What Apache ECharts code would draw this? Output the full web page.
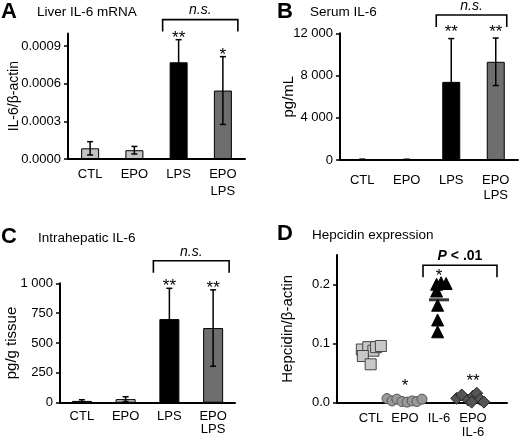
<!DOCTYPE html>
<html><head><meta charset="utf-8">
<script src="https://cdn.jsdelivr.net/npm/echarts@6/dist/echarts.min.js"></script>
<style>html,body{margin:0;padding:0;background:#fff}#c{width:520px;height:439px}</style>
</head><body><div id="c"></div>
<script>
// ---------- data ----------
const barCategories = ['CTL', 'EPO', 'LPS', 'EPO\nLPS'];
const dotCategories = ['CTL', 'EPO', 'IL-6', 'EPO\nIL-6'];

// A: Liver IL-6 mRNA (IL-6/β-actin)
const liverMean = [0.000085, 0.00007, 0.00077, 0.000545];
const liverErr = [0.000053, 0.00003, 0.00018, 0.00027];
const liverStars = ['', '', '**', '*'];
const liverTicks = [0, 0.0003, 0.0006, 0.0009];

// B: Serum IL-6 (pg/mL)
const serumMean = [50, 40, 7400, 9300];
const serumErr = [30, 30, 4100, 2250];
const serumStars = ['', '', '**', '**'];
const serumTicks = [0, 4000, 8000, 12000];

// C: Intrahepatic IL-6 (pg/g tissue)
const hepMean = [15, 30, 700, 625];
const hepErr = [10, 20, 258, 320];
const hepStars = ['', '', '**', '**'];
const hepTicks = [0, 250, 500, 750, 1000];

// D: Hepcidin expression (Hepcidin/β-actin), individual animals
const ctlVals = [0.090, 0.094, 0.088, 0.094, 0.096, 0.079, 0.065];
const ctlJitter = [-0.27, -0.08, 0.07, 0.15, 0.29, -0.24, -0.01];
const epoVals = [0.007, 0.003, 0.006, 0.002, 0.001, 0.003, 0.002, 0.006];
const epoJitter = [-0.53, -0.38, -0.24, -0.09, 0.06, 0.21, 0.35, 0.5];
const il6Vals = [0.2005, 0.2017, 0.203, 0.189, 0.165, 0.14, 0.12];
const il6Jitter = [-0.07, 0.21, 0.06, -0.07, -0.04, -0.04, -0.04];
const epoIl6Vals = [0.0074, 0.013, 0.0046, 0.0113, 0.016, 0.0057, 0.001, 0.001];
const epoIl6Jitter = [-0.48, -0.33, -0.14, 0.01, 0.11, 0.21, 0.32, -0.04];
const dotStars = ['', '*', '*', '**'];
const hepcidinTicks = [0, 0.1, 0.2];

// ---------- helpers ----------
const FONT = '"Liberation Sans", Arial, Helvetica, sans-serif';
const barColors = ['#c4c4c4', '#c4c4c4', '#000000', '#6e6e6e'];

function thousands(v) {
  if (v < 1000) return String(v);
  const r = String(v % 1000).padStart(3, '0');
  return Math.floor(v / 1000) + ' ' + r;
}
function mean(a) { return a.reduce((s, v) => s + v, 0) / a.length; }

function barSeries(idx, means, width) {
  return {
    type: 'bar', xAxisIndex: idx, yAxisIndex: idx, barWidth: width,
    data: means.map((v, i) => ({ value: v, itemStyle: { color: barColors[i], borderColor: '#000', borderWidth: 1 } })),
    z: 2, silent: true
  };
}
function errSeries(idx, means, errs) {
  return {
    type: 'custom', xAxisIndex: idx, yAxisIndex: idx, z: 3, silent: true,
    data: means.map((v, i) => [i, v - errs[i], v + errs[i]]),
    encode: { x: 0, y: [1, 2] },
    renderItem: function (params, api) {
      const lo = api.coord([api.value(0), api.value(1)]);
      const hi = api.coord([api.value(0), api.value(2)]);
      const w = 3, st = { stroke: '#000', lineWidth: 1.5 };
      return { type: 'group', children: [
        { type: 'line', shape: { x1: lo[0], y1: lo[1], x2: hi[0], y2: hi[1] }, style: st },
        { type: 'line', shape: { x1: hi[0] - w, y1: hi[1], x2: hi[0] + w, y2: hi[1] }, style: st },
        { type: 'line', shape: { x1: lo[0] - w, y1: lo[1], x2: lo[0] + w, y2: lo[1] }, style: st }
      ] };
    }
  };
}
function starSeries(idx, xs, tops, stars, offsets) {
  return {
    type: 'custom', xAxisIndex: idx, yAxisIndex: idx, z: 4, silent: true,
    data: tops.map((v, i) => [xs[i], v]),
    encode: { x: 0, y: 1 },
    renderItem: function (params, api) {
      const p = api.coord([api.value(0), api.value(1)]);
      const off = Array.isArray(offsets) ? offsets[params.dataIndex] : offsets;
      return { type: 'text', x: p[0], y: p[1] - off, style: {
        text: stars[params.dataIndex], fill: '#000',
        font: '17px ' + FONT, align: 'center', verticalAlign: 'middle',
        textAlign: 'center', textVerticalAlign: 'middle' } };
    }
  };
}
function bracketSeries(idx, from, to, level, leg, extL, extR, text, rich) {
  return {
    type: 'custom', xAxisIndex: idx, yAxisIndex: idx, z: 4, silent: true, clip: false,
    data: [[from, to, level]],
    encode: { x: [0, 1], y: 2 },
    renderItem: function (params, api) {
      const a = api.coord([api.value(0), api.value(2)]);
      const b = api.coord([api.value(1), api.value(2)]);
      const x1 = a[0] - extL, x2 = b[0] + extR, y = a[1];
      return { type: 'group', children: [
        { type: 'polyline', shape: { points: [[x1, y + leg], [x1, y], [x2, y], [x2, y + leg]] },
          style: { stroke: '#000', lineWidth: 1.6, fill: 'none' } },
        { type: 'text', x: (x1 + x2) / 2, y: y - 9, style: Object.assign({
          text: text, fill: '#000', align: 'center', verticalAlign: 'middle',
          textAlign: 'center', textVerticalAlign: 'middle' }, rich) }
      ] };
    }
  };
}
function dotSeries(idx, gi, vals, jit, symbol, size, fill, border) {
  return {
    type: 'scatter', xAxisIndex: idx, yAxisIndex: idx, z: 3, silent: true,
    symbol: symbol, symbolSize: size,
    itemStyle: { color: fill, borderColor: border, borderWidth: 1, opacity: 1 },
    data: vals.map((v, i) => [gi + jit[i], v])
  };
}

const axisLine = { show: true, onZero: false, lineStyle: { color: '#000', width: 2 } };
function catX(idx, lineHeight, margin, fontSize) {
  return {
    type: 'category', gridIndex: idx, data: barCategories,
    axisLine: axisLine, axisTick: { show: false },
    axisLabel: { color: '#000', fontFamily: FONT, fontSize: fontSize, lineHeight: lineHeight, margin: margin, interval: 0 },
    splitLine: { show: false }
  };
}
function valY(idx, max, interval, fmt, showMax, name, nameGap, nameSize, fontSize) {
  return {
    type: 'value', gridIndex: idx, min: 0, max: max, interval: interval,
    axisLine: axisLine, axisTick: { show: true, length: 4, lineStyle: { color: '#000', width: 1.5 } },
    axisLabel: { color: '#000', fontFamily: FONT, fontSize: fontSize, margin: 7, formatter: fmt, showMaxLabel: showMax },
    splitLine: { show: false },
    name: name, nameLocation: 'middle', nameGap: nameGap, nameMoveOverlap: false,
    nameTextStyle: { color: '#000', fontFamily: FONT, fontSize: nameSize }
  };
}

const dMeanX = [0, 1, 2, 3];
const dMeans = [mean(ctlVals), mean(epoVals), mean(il6Vals), mean(epoIl6Vals)];

const option = {
  animation: false,
  backgroundColor: '#fff',
  grid: [
    { left: 68, top: 33.4, right: 275, bottom: 280, containLabel: false, outerBoundsMode: 'none' },
    { left: 340, top: 33.3, right: 2, bottom: 279, containLabel: false, outerBoundsMode: 'none' },
    { left: 60, top: 283.3, right: 285, bottom: 36.3, containLabel: false, outerBoundsMode: 'none' },
    { left: 337, top: 255, right: 13, bottom: 36.3, containLabel: false, outerBoundsMode: 'none' }
  ],
  xAxis: [
    catX(0, 17, 7, 13),
    catX(1, 15, 13, 13),
    catX(2, 13, 7, 13),
    {
      type: 'value', gridIndex: 3, min: -1, max: 4, interval: 1,
      axisLine: axisLine, axisTick: { show: false }, splitLine: { show: false },
      axisLabel: { color: '#000', fontFamily: FONT, fontSize: 13, lineHeight: 14, margin: 9,
        formatter: v => dotCategories[v] || '' }
    }
  ],
  yAxis: [
    valY(0, 0.001, 0.0003, v => v.toFixed(4), false, 'IL-6/β-actin', 47, 14, 13),
    valY(1, 12000, 4000, thousands, true, 'pg/mL', 44, 15, 13),
    valY(2, 1000, 250, thousands, true, 'pg/g tissue', 41, 15, 13),
    valY(3, 0.25, 0.1, v => v.toFixed(1), false, 'Hepcidin/β-actin', 42, 15, 13)
  ],
  series: [
    // A
    barSeries(0, liverMean, 18),
    errSeries(0, liverMean, liverErr),
    starSeries(0, [0, 1, 2, 3], liverMean.map((v, i) => v + liverErr[i]), liverStars, 1),
    bracketSeries(0, 2, 3, 0.00111, 12, 16, 15, 'n.s.', { font: 'italic 14px ' + FONT }),
    // B
    barSeries(1, serumMean, 18),
    errSeries(1, serumMean, serumErr),
    starSeries(1, [0, 1, 2, 3], serumMean.map((v, i) => v + serumErr[i]), serumStars, 6),
    bracketSeries(1, 2, 3, 13734, 12, 15, 11, 'n.s.', { font: 'italic 14px ' + FONT }),
    // C
    barSeries(2, hepMean, 20),
    errSeries(2, hepMean, hepErr),
    starSeries(2, [0, 1, 2, 3], hepMean.map((v, i) => v + hepErr[i]), hepStars, 2),
    bracketSeries(2, 2, 3, 1189, 12, 16, 16, 'n.s.', { font: 'italic 14px ' + FONT }),
    // D mean bars (under the points)
    {
      type: 'scatter', xAxisIndex: 3, yAxisIndex: 3, z: 2, silent: true,
      symbol: 'rect', symbolSize: [20, 3], itemStyle: { color: '#000' },
      data: dMeans.map((v, i) => [dMeanX[i], v])
    },
    dotSeries(3, 0, ctlVals, ctlJitter, 'rect', 11, '#c8c8c8', '#444'),
    dotSeries(3, 1, epoVals, epoJitter, 'circle', 10, '#9a9a9a', '#555'),
    dotSeries(3, 2, il6Vals, il6Jitter, 'triangle', 12, '#000', '#000'),
    dotSeries(3, 3, epoIl6Vals, epoIl6Jitter, 'diamond', 12, '#555', '#222'),
    starSeries(3, [0, 1, 2, 3], [Math.max(...ctlVals), Math.max(...epoVals), Math.max(...il6Vals), Math.max(...epoIl6Vals)], dotStars, [12, 12, 6, 12]),
    bracketSeries(3, 2, 3, 0.2326, 12, 16, 24, '{i|P} < .01',
      { font: 'bold 14px ' + FONT, rich: { i: { fontStyle: 'italic', fontWeight: 'bold', fontSize: 14, fontFamily: FONT } } })
  ],
  graphic: [
    { type: 'text', x: 1, y: 12, style: { text: 'A', font: 'bold 22px ' + FONT, fill: '#000', verticalAlign: 'middle', textVerticalAlign: 'middle' } },
    { type: 'text', x: 37, y: 12, style: { text: 'Liver IL-6 mRNA', font: '13.5px ' + FONT, fill: '#000', verticalAlign: 'middle', textVerticalAlign: 'middle' } },
    { type: 'text', x: 277, y: 12, style: { text: 'B', font: 'bold 22px ' + FONT, fill: '#000', verticalAlign: 'middle', textVerticalAlign: 'middle' } },
    { type: 'text', x: 310, y: 12, style: { text: 'Serum IL-6', font: '13.5px ' + FONT, fill: '#000', verticalAlign: 'middle', textVerticalAlign: 'middle' } },
    { type: 'text', x: 1, y: 237, style: { text: 'C', font: 'bold 22px ' + FONT, fill: '#000', verticalAlign: 'middle', textVerticalAlign: 'middle' } },
    { type: 'text', x: 38, y: 238, style: { text: 'Intrahepatic IL-6', font: '13.5px ' + FONT, fill: '#000', verticalAlign: 'middle', textVerticalAlign: 'middle' } },
    { type: 'text', x: 277, y: 234, style: { text: 'D', font: 'bold 22px ' + FONT, fill: '#000', verticalAlign: 'middle', textVerticalAlign: 'middle' } },
    { type: 'text', x: 312, y: 235, style: { text: 'Hepcidin expression', font: '13.5px ' + FONT, fill: '#000', verticalAlign: 'middle', textVerticalAlign: 'middle' } }
  ]
};

const chart = echarts.init(document.getElementById('c'), null, { renderer: 'canvas' });
chart.setOption(option);
</script>
</body></html>
